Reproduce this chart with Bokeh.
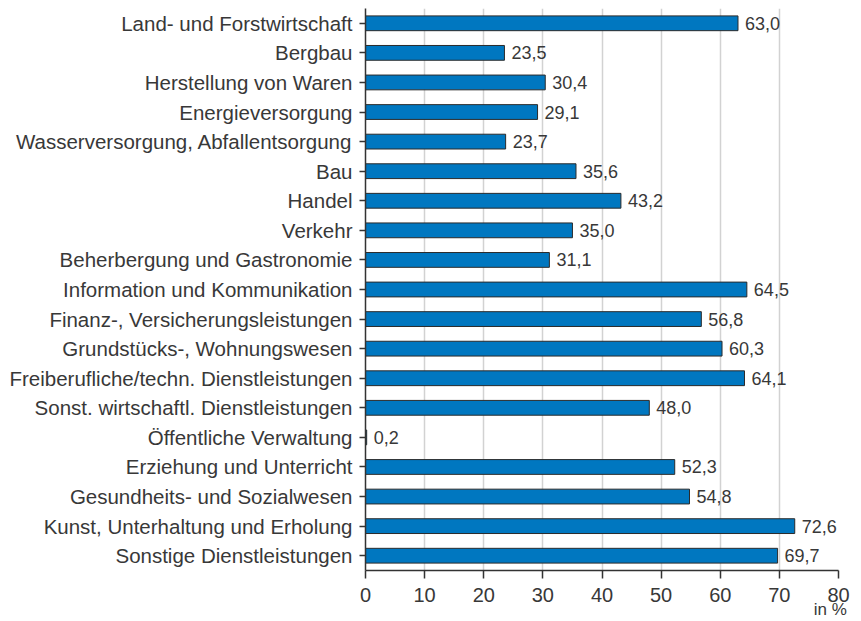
from bokeh.plotting import figure
from bokeh.models import ColumnDataSource, FactorRange, Range1d, FixedTicker, LinearAxis
from bokeh.core.properties import value
from bokeh.embed import file_html
from bokeh.resources import INLINE

categories = [
    "Land- und Forstwirtschaft",
    "Bergbau",
    "Herstellung von Waren",
    "Energieversorgung",
    "Wasserversorgung, Abfallentsorgung",
    "Bau",
    "Handel",
    "Verkehr",
    "Beherbergung und Gastronomie",
    "Information und Kommunikation",
    "Finanz-, Versicherungsleistungen",
    "Grundstücks-, Wohnungswesen",
    "Freiberufliche/techn. Dienstleistungen",
    "Sonst. wirtschaftl. Dienstleistungen",
    "Öffentliche Verwaltung",
    "Erziehung und Unterricht",
    "Gesundheits- und Sozialwesen",
    "Kunst, Unterhaltung und Erholung",
    "Sonstige Dienstleistungen",
]
values = [63.0, 23.5, 30.4, 29.1, 23.7, 35.6, 43.2, 35.0, 31.1, 64.5,
          56.8, 60.3, 64.1, 48.0, 0.2, 52.3, 54.8, 72.6, 69.7]
x_ticks = [0, 10, 20, 30, 40, 50, 60, 70, 80]
unit_label = "in %"
unit_pos = 78.6

FONT = "Liberation Sans"
TXT = "#383838"

labels = [f"{v:.1f}".replace(".", ",") for v in values]
src = ColumnDataSource(dict(cat=categories, val=values, lab=labels))

p = figure(
    width=861, height=621,
    y_range=FactorRange(*reversed(categories)),
    x_range=Range1d(0, 80),
    output_backend="svg", toolbar_location=None,
    min_border_left=365, min_border_right=23,
    min_border_top=8, min_border_bottom=50,
)
p.outline_line_color = None
p.ygrid.grid_line_color = None
p.xgrid.grid_line_color = "#d2d2d2"
p.xgrid.grid_line_width = 1.5
p.xgrid.ticker = FixedTicker(ticks=x_ticks)

p.hbar(y="cat", right="val", left=0, height=0.5, source=src,
       fill_color="#0077c0", line_color="#2b2b2b", line_width=1)

p.text(x="val", y="cat", text="lab", source=src, x_offset=7,
       text_baseline="middle", text_align="left",
       text_font=value(FONT), text_font_size="18px", text_color=TXT)

xa = p.xaxis[0]
xa.ticker = FixedTicker(ticks=x_ticks)
xa.axis_line_color = "#333333"
xa.axis_line_width = 1.5
xa.major_tick_line_color = "#333333"
xa.major_tick_line_width = 1.5
xa.major_tick_out = 8
xa.major_tick_in = 0
xa.minor_tick_line_color = None
xa.major_label_standoff = 9
xa.major_label_text_font = FONT
xa.major_label_text_font_size = "20px"
xa.major_label_text_color = TXT

ya = p.yaxis[0]
ya.axis_line_color = "#333333"
ya.axis_line_width = 1.5
ya.major_tick_line_color = "#333333"
ya.major_tick_line_width = 1.5
ya.major_tick_out = 6
ya.major_tick_in = 0
ya.major_label_standoff = 7
ya.major_label_text_font = FONT
ya.major_label_text_font_size = "20.5px"
ya.major_label_text_color = TXT

# unit label as a second, bare axis below the main one
ua = LinearAxis(ticker=FixedTicker(ticks=[unit_pos]),
                major_label_overrides={unit_pos: unit_label})
ua.axis_line_color = None
ua.major_tick_line_color = None
ua.minor_tick_line_color = None
ua.major_tick_out = 0
ua.major_tick_in = 0
ua.major_label_standoff = -5
ua.major_label_text_font = FONT
ua.major_label_text_font_size = "17px"
ua.major_label_text_color = TXT
p.add_layout(ua, "below")

open("out.html", "w").write(file_html(p, INLINE))
